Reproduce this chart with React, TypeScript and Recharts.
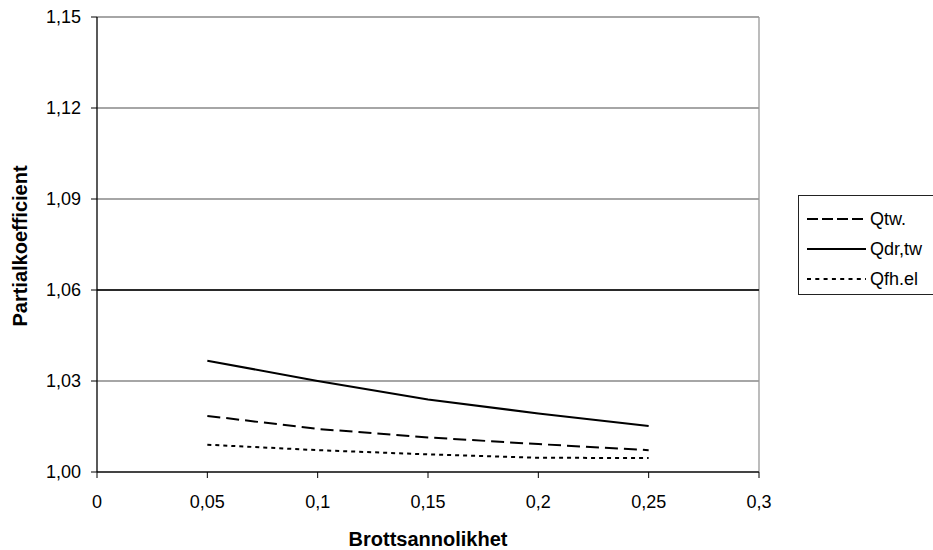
import React from 'react';
import { LineChart, Line, XAxis, YAxis, CartesianGrid, ReferenceLine } from 'recharts';

// Brottsannolikhet (x) och partialkoefficienter per serie
const brottsannolikhet = [0.05, 0.1, 0.15, 0.2, 0.25];
const qtw = [1.0185, 1.0142, 1.0114, 1.0092, 1.0072];
const qdrTw = [1.0367, 1.03, 1.0239, 1.0193, 1.0152];
const qfhEl = [1.009, 1.0072, 1.0058, 1.0047, 1.0046];

const xTicks = [0, 0.05, 0.1, 0.15, 0.2, 0.25, 0.3];
const yTicks = [1.0, 1.03, 1.06, 1.09, 1.12, 1.15];

const seriesNames = ['Qtw.', 'Qdr,tw', 'Qfh.el'];

const data = brottsannolikhet.map((x, i) => ({
  x,
  qtw: qtw[i],
  qdr: qdrTw[i],
  qfh: qfhEl[i],
}));

const FONT = 'Arial, "Liberation Sans", sans-serif';

const comma = (v: number, d?: number) =>
  (d === undefined ? String(v) : v.toFixed(d)).replace('.', ',');

// egen legend: ram med linjeprover
const LegendBox = () => {
  const items = [
    { name: seriesNames[0], dash: '11 4' },
    { name: seriesNames[1], dash: undefined },
    { name: seriesNames[2], dash: '4 4.3' },
  ];
  return (
    <div
      style={{
        position: 'absolute',
        left: 798,
        top: 195,
        border: '1px solid #222',
        background: '#fff',
        width: 170,
        height: 100,
        boxSizing: 'border-box',
        paddingTop: 8,
        fontFamily: FONT,
        fontSize: 18,
      }}
    >
      {items.map((it) => (
        <div key={it.name} style={{ display: 'flex', alignItems: 'center', height: 30 }}>
          <svg width={63} height={10} style={{ marginLeft: 8 }}>
            <line x1={0} y1={5} x2={59} y2={5} stroke="#000" strokeWidth={2} strokeDasharray={it.dash} />
          </svg>
          <span>{it.name}</span>
        </div>
      ))}
    </div>
  );
};

export default function App() {
  return (
    <div style={{ position: 'absolute', left: 0, top: 0, width: 933, height: 550, overflow: 'hidden', background: '#fff' }}>
      <LineChart
        width={933}
        height={550}
        data={data}
        margin={{ top: 17, right: 174, left: 0, bottom: 0 }}
        style={{ fontFamily: FONT }}
      >
        <CartesianGrid horizontal vertical={false} stroke="#888" strokeWidth={1.3} />
        {/* ram runt ritytan */}
        <CartesianGrid horizontal={false} vertical verticalPoints={[759]} stroke="#999" strokeWidth={1.3} />
        <ReferenceLine y={1.06} stroke="#000" strokeWidth={1.3} />
        <XAxis
          dataKey="x"
          type="number"
          domain={[0, 0.3]}
          ticks={xTicks}
          tickFormatter={(v) => comma(v)}
          height={78}
          axisLine={{ stroke: '#444', strokeWidth: 2 }}
          tickLine={{ stroke: '#000' }}
          tickSize={6}
          tick={{ fill: '#000', fontSize: 18, fontFamily: FONT, dy: 15 }}
          label={{
            content: () => (
              <text
                x={428}
                y={539}
                textAnchor="middle"
                dominantBaseline="central"
                fontFamily={FONT}
                fontSize={20}
                fontWeight="bold"
                fill="#000"
              >
                Brottsannolikhet
              </text>
            ),
          }}
        />
        <YAxis
          type="number"
          domain={[1.0, 1.15]}
          ticks={yTicks}
          tickFormatter={(v) => comma(v, 2)}
          width={97}
          axisLine={{ stroke: '#000', strokeWidth: 1.3 }}
          tickLine={{ stroke: '#000' }}
          tickSize={6}
          tick={{ fill: '#000', fontSize: 18, fontFamily: FONT, dx: -8 }}
          allowDataOverflow
          label={{
            content: () => (
              <text
                x={20}
                y={246}
                transform="rotate(-90 20 246)"
                textAnchor="middle"
                dominantBaseline="central"
                fontFamily={FONT}
                fontSize={20}
                fontWeight="bold"
                fill="#000"
              >
                Partialkoefficient
              </text>
            ),
          }}
        />
        <Line
          type="linear"
          dataKey="qtw"
          name={seriesNames[0]}
          stroke="#000"
          strokeWidth={2}
          strokeDasharray="13 6"
          dot={false}
          isAnimationActive={false}
        />
        <Line
          type="linear"
          dataKey="qdr"
          name={seriesNames[1]}
          stroke="#000"
          strokeWidth={2}
          dot={false}
          isAnimationActive={false}
        />
        <Line
          type="linear"
          dataKey="qfh"
          name={seriesNames[2]}
          stroke="#000"
          strokeWidth={2}
          strokeDasharray="4 4"
          dot={false}
          isAnimationActive={false}
        />
      </LineChart>
      <LegendBox />
    </div>
  );
}
